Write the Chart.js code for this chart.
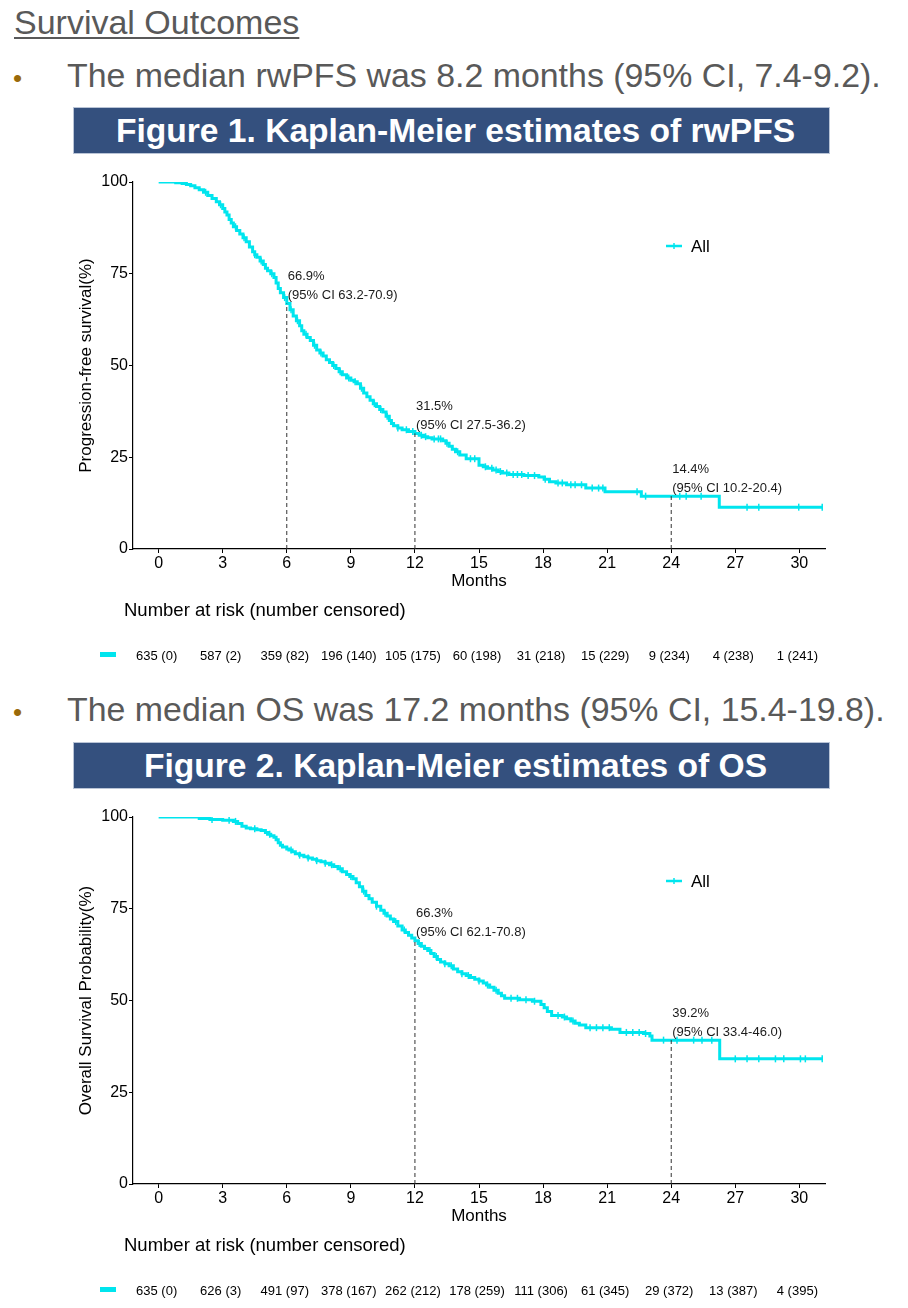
<!DOCTYPE html>
<html>
<head>
<meta charset="utf-8">
<title>Survival Outcomes</title>
<script src="https://cdn.jsdelivr.net/npm/chart.js@4.4.1/dist/chart.umd.min.js"></script>
<style>
  body { margin: 0; background: #fff; font-family: 'Liberation Sans', Arial, sans-serif; }
  .page { position: relative; width: 908px; height: 1308px; overflow: hidden; }
  .heading {
    position: absolute; left: 14px; top: 5px;
    font-size: 34px; line-height: 34px; color: #595959;
    text-decoration: underline; text-decoration-thickness: 2px; text-underline-offset: 3px;
  }
  .dot { position: absolute; left: 13px; font-size: 26px; line-height: 26px; color: #9a6a0a; }
  .point { position: absolute; left: 67px; font-size: 33.9px; line-height: 34px; color: #595959; white-space: nowrap; }
  .banner {
    position: absolute; left: 73px; width: 747px; height: 45px; padding-left: 8px;
    background: #34507e; border: 1px solid #b9c4d6;
    color: #fff; font-weight: bold; font-size: 33.6px; line-height: 45px; text-align: center;
  }
  .chart-box { position: absolute; left: 0; width: 908px; height: 508px; }
</style>
</head>
<body>
<div class="page">
  <div class="heading">Survival Outcomes</div>

  <div class="dot" style="top:65px">•</div>
  <div class="point" style="top:58px">The median rwPFS was 8.2 months (95% CI, 7.4-9.2).</div>
  <div class="banner" style="top:107px">Figure 1. Kaplan-Meier estimates of rwPFS</div>
  <div class="chart-box" style="top:165px"><canvas id="pfsChart" width="908" height="508"></canvas></div>

  <div class="dot" style="top:699px">•</div>
  <div class="point" style="top:692px">The median OS was 17.2 months (95% CI, 15.4-19.8).</div>
  <div class="banner" style="top:742px">Figure 2. Kaplan-Meier estimates of OS</div>
  <div class="chart-box" style="top:800px"><canvas id="osChart" width="908" height="508"></canvas></div>
</div>

<script>
// ---- shared axis ticks ----
const monthTicks = [0, 3, 6, 9, 12, 15, 18, 21, 24, 27, 30];
const pctTicks = [0, 25, 50, 75, 100];

// ---- rwPFS ----
const pfsMonths = [0, 0.8, 1.1, 1.3, 1.5, 1.7, 1.9, 2.1, 2.3, 2.5, 2.7, 2.85, 3.0, 3.1, 3.2, 3.3, 3.4, 3.5,
  3.65, 3.8, 3.95, 4.1, 4.25, 4.4, 4.5, 4.6, 4.75, 4.9, 5.0, 5.1, 5.25, 5.4, 5.5, 5.6, 5.7, 5.85,
  6.0, 6.15, 6.3, 6.45, 6.6, 6.7, 6.8, 6.95, 7.1, 7.25, 7.4, 7.55, 7.7, 7.85, 8.0, 8.15, 8.3, 8.45,
  8.6, 8.8, 9.0, 9.15, 9.3, 9.45, 9.6, 9.75, 9.9, 10.05, 10.2, 10.35, 10.5, 10.65, 10.8, 10.9, 11.0,
  11.2, 11.4, 11.7, 12.0, 12.2, 12.4, 12.6, 12.8, 13.3, 13.45, 13.6, 13.75, 13.9, 14.1, 14.4, 15.0,
  15.2, 15.4, 15.65, 15.9, 16.1, 16.4, 17.1, 17.8, 18.05, 18.3, 18.6, 19.1, 20.0, 20.9, 22.6, 26.25, 31.1];
const pfsPct = [100, 99.8, 99.6, 99.3, 99.0, 98.4, 97.9, 97.2, 96.3, 95.5, 94.6, 93.8, 92.8, 91.8, 91.0, 89.8, 88.8, 87.8,
  86.8, 85.8, 84.8, 83.7, 82.3, 81.0, 80.2, 79.5, 78.5, 77.5, 76.5, 75.8, 75.0, 74.0, 72.5, 71.0, 69.8, 68.5,
  66.9, 65.2, 63.5, 62.2, 60.8, 59.5, 58.5, 57.6, 56.8, 55.5, 54.2, 53.4, 52.6, 51.6, 50.8, 50.0, 49.2, 48.3,
  47.5, 46.6, 46.0, 45.6, 45.0, 43.8, 42.5, 41.5, 40.5, 39.6, 38.8, 38.0, 37.3, 36.2, 35.0, 34.2, 33.6,
  33.0, 32.5, 32.0, 31.5, 31.0, 30.6, 30.3, 30.0, 29.5, 28.8, 28.0, 27.2, 26.5, 25.6, 24.6, 22.8,
  22.4, 22.0, 21.5, 21.1, 20.7, 20.3, 20.0, 19.6, 19.0, 18.3, 18.0, 17.5, 16.6, 15.6, 14.4, 11.4, 11.4];
const pfsCensored = [2.2, 2.9, 3.6, 4.0, 4.5, 4.8, 5.3, 5.9, 6.2, 6.5, 6.9, 7.3, 7.6, 8.2, 8.5, 8.9, 9.2, 9.5,
  10.1, 10.4, 10.7, 11.2, 11.6, 11.9, 12.3, 12.5, 12.9, 13.1, 13.2, 13.5, 14.0, 14.6, 14.8, 15.3, 15.6, 15.8,
  16.0, 16.3, 16.6, 16.8, 17.0, 17.3, 17.6, 18.1, 18.7, 18.9, 19.3, 19.5, 19.8, 20.3, 20.6, 20.8, 22.4, 22.8,
  24.4, 24.7, 25.4, 27.55, 28.1, 29.97, 31.07];
const pfsLandmarks = [6, 12, 24];
const pfsLandmarkPct = [66.9, 31.5, 14.4];
const pfsLandmarkCI = ['(95% CI 63.2-70.9)', '(95% CI 27.5-36.2)', '(95% CI 10.2-20.4)'];
const pfsAtRisk = ['635 (0)', '587 (2)', '359 (82)', '196 (140)', '105 (175)', '60 (198)', '31 (218)',
  '15 (229)', '9 (234)', '4 (238)', '1 (241)'];

// ---- OS ----
const osMonths = [0, 1.9, 2.4, 3.0, 3.5, 3.7, 3.9, 4.1, 4.3, 4.6, 4.8, 5.0, 5.1, 5.25, 5.4, 5.5, 5.6, 5.7, 5.8,
  6.0, 6.1, 6.25, 6.4, 6.6, 6.8, 7.0, 7.2, 7.4, 7.6, 7.8, 8.0, 8.2, 8.4, 8.6, 8.8, 8.95, 9.1, 9.25, 9.4,
  9.55, 9.7, 9.85, 10.0, 10.2, 10.4, 10.55, 10.7, 10.85, 11.0, 11.2, 11.4, 11.55, 11.7, 11.85, 12.0,
  12.15, 12.3, 12.45, 12.6, 12.75, 12.9, 13.05, 13.2, 13.4, 13.6, 13.8, 14.0, 14.2, 14.4, 14.6, 14.8,
  15.0, 15.2, 15.35, 15.5, 15.7, 15.9, 16.05, 16.2, 16.9, 17.5, 17.9, 18.05, 18.2, 18.4, 18.9, 19.1,
  19.3, 19.5, 19.7, 20.0, 21.2, 21.6, 22.7, 23.0, 23.1, 26.27, 31.1];
const osPct = [100, 99.6, 99.3, 99.1, 98.8, 98.2, 97.5, 97.0, 96.8, 96.5, 96.3, 95.8, 95.3, 94.9, 94.5, 93.8, 93.0, 92.3, 91.8,
  91.3, 91.0, 90.5, 90.0, 89.6, 89.2, 88.8, 88.5, 88.1, 87.8, 87.4, 87.0, 86.5, 85.9, 85.1, 84.3, 83.8, 83.2, 82.1, 81.0,
  79.8, 78.6, 77.7, 76.8, 75.7, 74.6, 73.8, 73.0, 72.2, 71.5, 70.3, 69.2, 68.5, 67.8, 67.0, 66.3,
  65.5, 64.8, 64.2, 63.6, 62.8, 62.0, 61.2, 60.5, 60.0, 59.5, 58.6, 57.8, 57.3, 56.8, 56.3, 55.8,
  55.3, 54.8, 54.2, 53.6, 52.8, 52.0, 51.3, 50.6, 50.2, 49.8, 48.9, 48.0, 47.0, 45.9, 45.5, 45.0,
  44.4, 43.8, 43.3, 42.6, 42.2, 41.3, 41.0, 40.3, 39.2, 34.1, 34.1];
const osCensored = [2.5, 3.3, 3.6, 4.5, 5.2, 6.2, 6.6, 7.0, 7.4, 7.8, 8.1, 8.5, 9.0, 9.6, 10.2, 10.6, 11.1, 11.5,
  12.2, 12.7, 13.0, 13.4, 13.7, 14.2, 14.5, 15.0, 15.4, 15.8, 16.5, 16.8, 17.2, 17.6, 18.7, 19.0, 19.4, 20.2,
  20.5, 20.8, 21.1, 21.9, 22.2, 22.5, 22.8, 23.64, 24.27, 25.05, 25.44, 25.9, 27.0, 27.55, 28.1, 28.88,
  29.27, 30.05, 30.28, 31.07];
const osLandmarks = [12, 24];
const osLandmarkPct = [66.3, 39.2];
const osLandmarkCI = ['(95% CI 62.1-70.8)', '(95% CI 33.4-46.0)'];
const osAtRisk = ['635 (0)', '626 (3)', '491 (97)', '378 (167)', '262 (212)', '178 (259)', '111 (306)',
  '61 (345)', '29 (372)', '13 (387)', '4 (395)'];

const CYAN = '#00e5ee';
const FONT = "'Liberation Sans', Arial, sans-serif";

// KM value in effect at time t (used to sit censor marks on the curve)
function stepValue(months, pct, t) {
  let v = pct[0];
  for (let i = 0; i < months.length; i++) {
    if (months[i] <= t) v = pct[i];
  }
  return v;
}

// landmark labels, legend and the number-at-risk table
const kmExtras = {
  id: 'kmExtras',
  afterDraw(chart, args, opts) {
    const { ctx, chartArea, scales: { x, y } } = chart;
    ctx.save();

    // landmark labels
    ctx.fillStyle = '#1a1a1a';
    ctx.font = '13px ' + FONT;
    ctx.textAlign = 'left';
    ctx.textBaseline = 'middle';
    opts.landmarks.forEach((m, i) => {
      const px = x.getPixelForValue(m) + 1;
      const py = y.getPixelForValue(opts.landmarkPct[i]);
      ctx.fillText(opts.landmarkPct[i].toFixed(1) + '%', px, py - 27);
      ctx.fillText(opts.landmarkCI[i], px, py - 8);
    });

    // legend
    const lx = chartArea.right - 159;
    const ly = chartArea.top + 64;
    ctx.strokeStyle = CYAN;
    ctx.lineWidth = 2.5;
    ctx.beginPath();
    ctx.moveTo(lx, ly);
    ctx.lineTo(lx + 16, ly);
    ctx.stroke();
    ctx.lineWidth = 1.5;
    ctx.beginPath();
    ctx.moveTo(lx + 8, ly - 3);
    ctx.lineTo(lx + 8, ly + 3);
    ctx.stroke();
    ctx.fillStyle = '#000';
    ctx.font = '17px ' + FONT;
    ctx.fillText('All', lx + 25, ly + 1);

    // number at risk
    ctx.font = '18.5px ' + FONT;
    ctx.fillText('Number at risk (number censored)', chartArea.left - 9, chartArea.bottom + 62);
    ctx.fillStyle = CYAN;
    ctx.fillRect(chartArea.left - 33, chartArea.bottom + 103, 16, 5);
    ctx.fillStyle = '#000';
    ctx.font = '13px ' + FONT;
    ctx.textAlign = 'center';
    opts.atRisk.forEach((label, i) => {
      ctx.fillText(label, x.getPixelForValue(monthTicks[i]) - 2, chartArea.bottom + 107);
    });

    ctx.restore();
  }
};

function buildKmChart(canvasId, s) {
  const curve = s.months.map((m, i) => ({ x: m, y: s.pct[i] }));
  const censorMarks = s.censored.map(m => ({ x: m, y: stepValue(s.months, s.pct, m) }));

  const dropLines = s.landmarks.map((m, i) => ({
    type: 'line',
    data: [{ x: m, y: 0 }, { x: m, y: s.landmarkPct[i] }],
    borderColor: '#333',
    borderWidth: 1,
    borderDash: [4, 3],
    pointRadius: 0
  }));

  const axisCommon = {
    type: 'linear',
    grid: { display: true, drawOnChartArea: false, drawTicks: true, tickLength: 4, tickColor: '#000' },
    border: { display: true, color: '#000', width: 1.2 },
    ticks: { color: '#000', font: { family: FONT, size: 16 }, padding: 1 }
  };

  return new Chart(document.getElementById(canvasId), {
    type: 'line',
    data: {
      datasets: [
        ...dropLines,
        {
          type: 'line',
          label: 'All',
          data: curve,
          stepped: true,
          borderColor: CYAN,
          borderWidth: 3,
          pointRadius: 0
        },
        {
          type: 'scatter',
          data: censorMarks,
          showLine: false,
          pointStyle: 'line',
          rotation: 90,
          pointRadius: 3.5,
          borderColor: CYAN,
          borderWidth: 1.5
        }
      ]
    },
    options: {
      responsive: false,
      animation: false,
      layout: { padding: { left: 72, right: 83, top: 17, bottom: 77 } },
      plugins: {
        legend: { display: false },
        tooltip: { enabled: false },
        kmExtras: {
          landmarks: s.landmarks,
          landmarkPct: s.landmarkPct,
          landmarkCI: s.landmarkCI,
          atRisk: s.atRisk
        }
      },
      scales: {
        x: {
          ...axisCommon,
          min: -1.2,
          max: 31.2,
          afterBuildTicks: scale => { scale.ticks = monthTicks.map(v => ({ value: v })); },
          afterFit: scale => { scale.height = 47; },
          title: { display: true, text: 'Months', color: '#000', font: { family: FONT, size: 17 }, padding: { top: 2, bottom: 4 } }
        },
        y: {
          ...axisCommon,
          min: 0,
          max: 100,
          afterBuildTicks: scale => { scale.ticks = pctTicks.map(v => ({ value: v })); },
          afterFit: scale => { scale.width = 61; },
          title: { display: true, text: s.yTitle, color: '#000', font: { family: FONT, size: 17 }, padding: { top: 4, bottom: 4 } }
        }
      }
    },
    plugins: [kmExtras]
  });
}

document.addEventListener('DOMContentLoaded', () => {
  buildKmChart('pfsChart', {
    months: pfsMonths, pct: pfsPct, censored: pfsCensored,
    landmarks: pfsLandmarks, landmarkPct: pfsLandmarkPct, landmarkCI: pfsLandmarkCI,
    atRisk: pfsAtRisk, yTitle: 'Progression-free survival(%)'
  });
  buildKmChart('osChart', {
    months: osMonths, pct: osPct, censored: osCensored,
    landmarks: osLandmarks, landmarkPct: osLandmarkPct, landmarkCI: osLandmarkCI,
    atRisk: osAtRisk, yTitle: 'Overall Survival Probability(%)'
  });
});
</script>
</body>
</html>
